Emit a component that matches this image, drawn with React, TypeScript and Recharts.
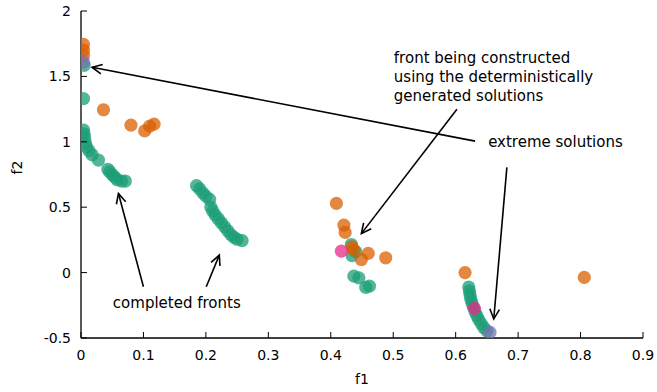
import { ScatterChart, Scatter, XAxis, YAxis, ReferenceLine, ReferenceDot } from "recharts";

// completed / partial fronts (f1, f2)
const greenFront1 = [
  { f1: 0.005, f2: 1.585 }, { f1: 0.004, f2: 1.33 }, { f1: 0.004, f2: 1.09 },
  { f1: 0.005, f2: 1.06 }, { f1: 0.006, f2: 1.03 }, { f1: 0.007, f2: 0.99 },
  { f1: 0.009, f2: 0.96 }, { f1: 0.013, f2: 0.93 }, { f1: 0.018, f2: 0.9 },
  { f1: 0.028, f2: 0.86 }, { f1: 0.043, f2: 0.79 }, { f1: 0.046, f2: 0.77 },
  { f1: 0.05, f2: 0.75 }, { f1: 0.054, f2: 0.73 }, { f1: 0.058, f2: 0.71 },
  { f1: 0.065, f2: 0.7 }, { f1: 0.071, f2: 0.7 },
];
const greenFront2 = [
  { f1: 0.185, f2: 0.665 }, { f1: 0.19, f2: 0.64 }, { f1: 0.195, f2: 0.61 },
  { f1: 0.2, f2: 0.585 }, { f1: 0.206, f2: 0.56 }, { f1: 0.208, f2: 0.5 },
  { f1: 0.211, f2: 0.47 }, { f1: 0.215, f2: 0.44 }, { f1: 0.22, f2: 0.41 },
  { f1: 0.225, f2: 0.38 }, { f1: 0.23, f2: 0.35 }, { f1: 0.235, f2: 0.32 },
  { f1: 0.24, f2: 0.29 }, { f1: 0.245, f2: 0.27 }, { f1: 0.25, f2: 0.255 },
  { f1: 0.258, f2: 0.245 },
];
const greenFront3 = [
  { f1: 0.433, f2: 0.215 }, { f1: 0.434, f2: 0.13 }, { f1: 0.44, f2: 0.16 },
  { f1: 0.437, f2: -0.027 }, { f1: 0.445, f2: -0.04 }, { f1: 0.456, f2: -0.113 },
  { f1: 0.462, f2: -0.103 },
];
const greenFront4 = [
  { f1: 0.621, f2: -0.11 }, { f1: 0.622, f2: -0.14 }, { f1: 0.623, f2: -0.17 },
  { f1: 0.624, f2: -0.2 }, { f1: 0.626, f2: -0.23 }, { f1: 0.628, f2: -0.26 },
  { f1: 0.631, f2: -0.3 }, { f1: 0.634, f2: -0.33 }, { f1: 0.637, f2: -0.36 },
  { f1: 0.641, f2: -0.39 }, { f1: 0.645, f2: -0.42 }, { f1: 0.65, f2: -0.445 },
];
// deterministically generated solutions
const orangePoints = [
  { f1: 0.004, f2: 1.745 }, { f1: 0.004, f2: 1.7 }, { f1: 0.004, f2: 1.66 },
  { f1: 0.036, f2: 1.245 }, { f1: 0.08, f2: 1.127 }, { f1: 0.102, f2: 1.083 },
  { f1: 0.11, f2: 1.12 }, { f1: 0.117, f2: 1.135 }, { f1: 0.409, f2: 0.529 },
  { f1: 0.421, f2: 0.363 }, { f1: 0.423, f2: 0.307 }, { f1: 0.434, f2: 0.197 },
  { f1: 0.437, f2: 0.172 }, { f1: 0.46, f2: 0.147 }, { f1: 0.449, f2: 0.1 },
  { f1: 0.488, f2: 0.113 }, { f1: 0.615, f2: 0.0 }, { f1: 0.806, f2: -0.037 },
];
const pinkPoints = [{ f1: 0.417, f2: 0.164 }, { f1: 0.63, f2: -0.274 }];
const purplePoints = [{ f1: 0.004, f2: 1.61 }, { f1: 0.655, f2: -0.457 }];

const xTicks = [0, 0.1, 0.2, 0.3, 0.4, 0.5, 0.6, 0.7, 0.8, 0.9];
const yTicks = [-0.5, 0, 0.5, 1, 1.5, 2];

// annotations in data coordinates
const arrows = [
  { from: [0.631, 1.005], to: [0.0177, 1.57] },
  { from: [0.602, 1.249], to: [0.449, 0.298] },
  { from: [0.682, 0.804], to: [0.661, -0.355] },
  { from: [0.1, -0.108], to: [0.06, 0.605] },
  { from: [0.2006, -0.108], to: [0.2215, 0.134] },
];
const labels = [
  { f1: 0.501, f2: 1.603, lines: ["front being constructed", "using the deterministically", "generated solutions"] },
  { f1: 0.652, f2: 0.961, lines: ["extreme solutions"] },
  { f1: 0.051, f2: -0.271, lines: ["completed fronts"] },
];

const FONT = "DejaVu Sans, sans-serif";

const dot = (color: string) => (p: any) =>
  <circle cx={p.cx} cy={p.cy} r={6.6} fill={color} fillOpacity={0.75} />;

const BottomTick = ({ x, y, payload }: any) => (
  <g>
    <line x1={x} y1={y} x2={x} y2={y - 6} stroke="#000" />
    <text x={x} y={y + 22} textAnchor="middle" fontSize={14} fontFamily={FONT} fill="#000">
      {payload.value}
    </text>
  </g>
);
const TopTick = ({ x, y }: any) => <line x1={x} y1={y} x2={x} y2={y + 6} stroke="#000" />;
const LeftTick = ({ x, y, payload }: any) => (
  <g>
    <line x1={x} y1={y} x2={x + 6} y2={y} stroke="#000" />
    <text x={x - 10} y={y + 5} textAnchor="end" fontSize={14} fontFamily={FONT} fill="#000">
      {payload.value}
    </text>
  </g>
);
const RightTick = ({ x, y }: any) => <line x1={x} y1={y} x2={x - 6} y2={y} stroke="#000" />;

const Arrow = ({ x1, y1, x2, y2 }: any) => {
  const a = Math.atan2(y2 - y1, x2 - x1);
  const len = 11;
  const spread = 0.45;
  const h1x = x2 - len * Math.cos(a - spread);
  const h1y = y2 - len * Math.sin(a - spread);
  const h2x = x2 - len * Math.cos(a + spread);
  const h2y = y2 - len * Math.sin(a + spread);
  return (
    <g stroke="#000" strokeWidth={1.6} fill="none">
      <line x1={x1} y1={y1} x2={x2} y2={y2} />
      <polyline points={`${h1x},${h1y} ${x2},${y2} ${h2x},${h2y}`} />
    </g>
  );
};

const Label = (lines: string[]) => (p: any) => (
  <text x={p.cx} y={p.cy} fontSize={15} fontFamily={FONT} fill="#000">
    {lines.map((l, i) => (
      <tspan key={i} x={p.cx} dy={i === 0 ? 0 : 19}>
        {l}
      </tspan>
    ))}
  </text>
);

export default function App() {
  return (
    <div style={{ position: "absolute", left: 0, top: 0, background: "#fff" }}>
      <ScatterChart width={657} height={392} margin={{ top: 11, right: 14, left: 21, bottom: 14 }}>
        <XAxis
          xAxisId="b"
          dataKey="f1"
          type="number"
          domain={[0, 0.9]}
          allowDataOverflow
          ticks={xTicks}
          interval={0}
          height={40}
          tickSize={0}
          tickMargin={0}
          tick={<BottomTick />}
          axisLine={{ stroke: "#000", strokeWidth: 1.3 }}
          label={{ value: "f1", position: "insideBottom", offset: 0, fontSize: 14, fontFamily: FONT, fill: "#000", dy: 6 }}
        />
        <XAxis
          xAxisId="t"
          orientation="top"
          dataKey="f1"
          type="number"
          domain={[0, 0.9]}
          ticks={xTicks}
          interval={0}
          height={0}
          tickSize={0}
          tickMargin={0}
          tick={<TopTick />}
          axisLine={{ stroke: "#000", strokeWidth: 1.3 }}
        />
        <YAxis
          yAxisId="l"
          dataKey="f2"
          type="number"
          domain={[-0.5, 2]}
          allowDataOverflow
          ticks={yTicks}
          interval={0}
          width={60}
          tickSize={0}
          tickMargin={0}
          tick={<LeftTick />}
          axisLine={{ stroke: "#000", strokeWidth: 1.3 }}
          label={{ value: "f2", angle: -90, position: "insideLeft", offset: -4, fontSize: 14, fontFamily: FONT, fill: "#000" }}
        />
        <YAxis
          yAxisId="r"
          orientation="right"
          dataKey="f2"
          type="number"
          domain={[-0.5, 2]}
          ticks={yTicks}
          interval={0}
          width={0}
          tickSize={0}
          tickMargin={0}
          tick={<RightTick />}
          axisLine={{ stroke: "#000", strokeWidth: 1.3 }}
        />
        {[greenFront1, greenFront2, greenFront3, greenFront4].map((d, i) => (
          <Scatter key={`g${i}`} xAxisId="b" yAxisId="l" data={d} shape={dot("#1b9e77")} isAnimationActive={false} />
        ))}
        <Scatter xAxisId="b" yAxisId="l" data={orangePoints} shape={dot("#d95f02")} isAnimationActive={false} />
        <Scatter xAxisId="b" yAxisId="l" data={pinkPoints} shape={dot("#e7298a")} isAnimationActive={false} />
        <Scatter xAxisId="b" yAxisId="l" data={purplePoints} shape={dot("#7570b3")} isAnimationActive={false} />
        {arrows.map((a, i) => (
          <ReferenceLine
            key={`a${i}`}
            xAxisId="b"
            yAxisId="l"
            segment={[{ x: a.from[0], y: a.from[1] }, { x: a.to[0], y: a.to[1] }]}
            shape={<Arrow />}
          />
        ))}
        {labels.map((l, i) => (
          <ReferenceDot key={`t${i}`} xAxisId="b" yAxisId="l" x={l.f1} y={l.f2} shape={Label(l.lines)} />
        ))}
      </ScatterChart>
    </div>
  );
}
